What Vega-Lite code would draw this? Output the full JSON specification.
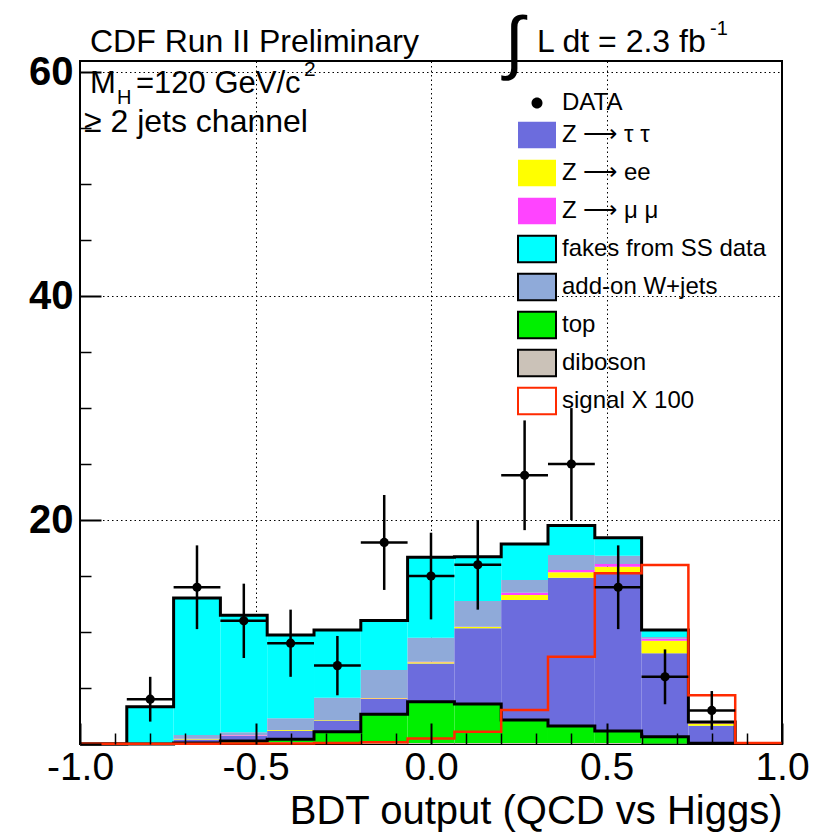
{
  "$schema": "https://vega.github.io/schema/vega-lite/v6.json",
  "width": 702,
  "height": 683,
  "autosize": {"type": "none"},
  "padding": {"left": 80, "top": 61, "right": 36, "bottom": 93},
  "background": "white",
  "config": {
    "font": "Liberation Sans",
    "view": {"stroke": "black", "strokeWidth": 2},
    "axis": {
      "domain": false,
      "grid": false,
      "labelColor": "black",
      "tickColor": "black",
      "titleColor": "black",
      "labelFont": "Liberation Sans",
      "titleFont": "Liberation Sans",
      "titleFontWeight": "normal"
    }
  },
  "datasets": {
    "stack": [
      {"lo": -1.0, "hi": -0.8667, "process": "fakes from SS data", "n": 0},
      {"lo": -1.0, "hi": -0.8667, "process": "top", "n": 0},

      {"lo": -0.8667, "hi": -0.7333, "process": "top", "n": 0},
      {"lo": -0.8667, "hi": -0.7333, "process": "fakes from SS data", "n": 3.33},

      {"lo": -0.7333, "hi": -0.6, "process": "diboson", "n": 0.05},
      {"lo": -0.7333, "hi": -0.6, "process": "top", "n": 0.05},
      {"lo": -0.7333, "hi": -0.6, "process": "Z → τ τ", "n": 0.3},
      {"lo": -0.7333, "hi": -0.6, "process": "Z → ee", "n": 0.05},
      {"lo": -0.7333, "hi": -0.6, "process": "Z → μ μ", "n": 0.02},
      {"lo": -0.7333, "hi": -0.6, "process": "add-on W+jets", "n": 0.33},
      {"lo": -0.7333, "hi": -0.6, "process": "fakes from SS data", "n": 12.24},

      {"lo": -0.6, "hi": -0.4667, "process": "diboson", "n": 0.1},
      {"lo": -0.6, "hi": -0.4667, "process": "top", "n": 0.17},
      {"lo": -0.6, "hi": -0.4667, "process": "Z → τ τ", "n": 0.47},
      {"lo": -0.6, "hi": -0.4667, "process": "Z → ee", "n": 0.01},
      {"lo": -0.6, "hi": -0.4667, "process": "Z → μ μ", "n": 0.05},
      {"lo": -0.6, "hi": -0.4667, "process": "add-on W+jets", "n": 0.25},
      {"lo": -0.6, "hi": -0.4667, "process": "fakes from SS data", "n": 10.45},

      {"lo": -0.4667, "hi": -0.3333, "process": "diboson", "n": 0.15},
      {"lo": -0.4667, "hi": -0.3333, "process": "top", "n": 0.27},
      {"lo": -0.4667, "hi": -0.3333, "process": "Z → τ τ", "n": 0.77},
      {"lo": -0.4667, "hi": -0.3333, "process": "Z → ee", "n": 0.06},
      {"lo": -0.4667, "hi": -0.3333, "process": "Z → μ μ", "n": 0.01},
      {"lo": -0.4667, "hi": -0.3333, "process": "add-on W+jets", "n": 1.03},
      {"lo": -0.4667, "hi": -0.3333, "process": "fakes from SS data", "n": 7.44},

      {"lo": -0.3333, "hi": -0.2, "process": "diboson", "n": 0.1},
      {"lo": -0.3333, "hi": -0.2, "process": "top", "n": 1.0},
      {"lo": -0.3333, "hi": -0.2, "process": "Z → τ τ", "n": 1.0},
      {"lo": -0.3333, "hi": -0.2, "process": "Z → ee", "n": 0.04},
      {"lo": -0.3333, "hi": -0.2, "process": "Z → μ μ", "n": 0.01},
      {"lo": -0.3333, "hi": -0.2, "process": "add-on W+jets", "n": 1.99},
      {"lo": -0.3333, "hi": -0.2, "process": "fakes from SS data", "n": 6.04},

      {"lo": -0.2, "hi": -0.0667, "process": "diboson", "n": 0.1},
      {"lo": -0.2, "hi": -0.0667, "process": "top", "n": 2.55},
      {"lo": -0.2, "hi": -0.0667, "process": "Z → τ τ", "n": 1.38},
      {"lo": -0.2, "hi": -0.0667, "process": "Z → ee", "n": 0.05},
      {"lo": -0.2, "hi": -0.0667, "process": "Z → μ μ", "n": 0.02},
      {"lo": -0.2, "hi": -0.0667, "process": "add-on W+jets", "n": 2.51},
      {"lo": -0.2, "hi": -0.0667, "process": "fakes from SS data", "n": 4.43},

      {"lo": -0.0667, "hi": 0.0667, "process": "diboson", "n": 0.1},
      {"lo": -0.0667, "hi": 0.0667, "process": "top", "n": 3.68},
      {"lo": -0.0667, "hi": 0.0667, "process": "Z → τ τ", "n": 3.42},
      {"lo": -0.0667, "hi": 0.0667, "process": "Z → ee", "n": 0.1},
      {"lo": -0.0667, "hi": 0.0667, "process": "Z → μ μ", "n": 0.05},
      {"lo": -0.0667, "hi": 0.0667, "process": "add-on W+jets", "n": 2.14},
      {"lo": -0.0667, "hi": 0.0667, "process": "fakes from SS data", "n": 7.18},

      {"lo": 0.0667, "hi": 0.2, "process": "diboson", "n": 0.1},
      {"lo": 0.0667, "hi": 0.2, "process": "top", "n": 3.47},
      {"lo": 0.0667, "hi": 0.2, "process": "Z → τ τ", "n": 6.76},
      {"lo": 0.0667, "hi": 0.2, "process": "Z → ee", "n": 0.12},
      {"lo": 0.0667, "hi": 0.2, "process": "Z → μ μ", "n": 0.03},
      {"lo": 0.0667, "hi": 0.2, "process": "add-on W+jets", "n": 2.29},
      {"lo": 0.0667, "hi": 0.2, "process": "fakes from SS data", "n": 3.96},

      {"lo": 0.2, "hi": 0.3333, "process": "diboson", "n": 0.1},
      {"lo": 0.2, "hi": 0.3333, "process": "top", "n": 2.04},
      {"lo": 0.2, "hi": 0.3333, "process": "Z → τ τ", "n": 10.72},
      {"lo": 0.2, "hi": 0.3333, "process": "Z → ee", "n": 0.44},
      {"lo": 0.2, "hi": 0.3333, "process": "Z → μ μ", "n": 0.21},
      {"lo": 0.2, "hi": 0.3333, "process": "add-on W+jets", "n": 1.13},
      {"lo": 0.2, "hi": 0.3333, "process": "fakes from SS data", "n": 3.22},

      {"lo": 0.3333, "hi": 0.4667, "process": "diboson", "n": 0.1},
      {"lo": 0.3333, "hi": 0.4667, "process": "top", "n": 1.51},
      {"lo": 0.3333, "hi": 0.4667, "process": "Z → τ τ", "n": 13.24},
      {"lo": 0.3333, "hi": 0.4667, "process": "Z → ee", "n": 0.48},
      {"lo": 0.3333, "hi": 0.4667, "process": "Z → μ μ", "n": 0.21},
      {"lo": 0.3333, "hi": 0.4667, "process": "add-on W+jets", "n": 1.34},
      {"lo": 0.3333, "hi": 0.4667, "process": "fakes from SS data", "n": 2.64},

      {"lo": 0.4667, "hi": 0.6, "process": "diboson", "n": 0.08},
      {"lo": 0.4667, "hi": 0.6, "process": "top", "n": 1.08},
      {"lo": 0.4667, "hi": 0.6, "process": "Z → τ τ", "n": 14.17},
      {"lo": 0.4667, "hi": 0.6, "process": "Z → ee", "n": 0.5},
      {"lo": 0.4667, "hi": 0.6, "process": "Z → μ μ", "n": 0.24},
      {"lo": 0.4667, "hi": 0.6, "process": "add-on W+jets", "n": 0.75},
      {"lo": 0.4667, "hi": 0.6, "process": "fakes from SS data", "n": 1.6},

      {"lo": 0.6, "hi": 0.7333, "process": "diboson", "n": 0.05},
      {"lo": 0.6, "hi": 0.7333, "process": "top", "n": 0.6},
      {"lo": 0.6, "hi": 0.7333, "process": "Z → τ τ", "n": 7.45},
      {"lo": 0.6, "hi": 0.7333, "process": "Z → ee", "n": 1.13},
      {"lo": 0.6, "hi": 0.7333, "process": "Z → μ μ", "n": 0.17},
      {"lo": 0.6, "hi": 0.7333, "process": "add-on W+jets", "n": 0.15},
      {"lo": 0.6, "hi": 0.7333, "process": "fakes from SS data", "n": 0.63},

      {"lo": 0.7333, "hi": 0.8667, "process": "diboson", "n": 0.02},
      {"lo": 0.7333, "hi": 0.8667, "process": "top", "n": 0.05},
      {"lo": 0.7333, "hi": 0.8667, "process": "Z → τ τ", "n": 1.57},
      {"lo": 0.7333, "hi": 0.8667, "process": "Z → ee", "n": 0.19},
      {"lo": 0.7333, "hi": 0.8667, "process": "Z → μ μ", "n": 0.04},
      {"lo": 0.7333, "hi": 0.8667, "process": "add-on W+jets", "n": 0.05},
      {"lo": 0.7333, "hi": 0.8667, "process": "fakes from SS data", "n": 0.05},

      {"lo": 0.8667, "hi": 1.0, "process": "top", "n": 0},
      {"lo": 0.8667, "hi": 1.0, "process": "fakes from SS data", "n": 0}
    ],
    "points": [
      {"lo": -0.8667, "hi": -0.7333, "mid": -0.8, "n": 4, "down": 2.0, "up": 6.0},
      {"lo": -0.7333, "hi": -0.6, "mid": -0.6667, "n": 14, "down": 10.26, "up": 17.74},
      {"lo": -0.6, "hi": -0.4667, "mid": -0.5333, "n": 11, "down": 7.68, "up": 14.32},
      {"lo": -0.4667, "hi": -0.3333, "mid": -0.4, "n": 9, "down": 6.0, "up": 12.0},
      {"lo": -0.3333, "hi": -0.2, "mid": -0.2667, "n": 7, "down": 4.35, "up": 9.65},
      {"lo": -0.2, "hi": -0.0667, "mid": -0.1333, "n": 18, "down": 13.76, "up": 22.24},
      {"lo": -0.0667, "hi": 0.0667, "mid": 0.0, "n": 15, "down": 11.13, "up": 18.87},
      {"lo": 0.0667, "hi": 0.2, "mid": 0.1333, "n": 16, "down": 12.0, "up": 20.0},
      {"lo": 0.2, "hi": 0.3333, "mid": 0.2667, "n": 24, "down": 19.1, "up": 28.9},
      {"lo": 0.3333, "hi": 0.4667, "mid": 0.4, "n": 25, "down": 20.0, "up": 30.0},
      {"lo": 0.4667, "hi": 0.6, "mid": 0.5333, "n": 14, "down": 10.26, "up": 17.74},
      {"lo": 0.6, "hi": 0.7333, "mid": 0.6667, "n": 6, "down": 3.55, "up": 8.45},
      {"lo": 0.7333, "hi": 0.8667, "mid": 0.8, "n": 3, "down": 1.27, "up": 4.73}
    ],
    "signal": [
      {"edge": -1.0, "n": 0.02},
      {"edge": -0.8667, "n": 0.02},
      {"edge": -0.7333, "n": 0.03},
      {"edge": -0.6, "n": 0.04},
      {"edge": -0.4667, "n": 0.05},
      {"edge": -0.3333, "n": 0.1},
      {"edge": -0.2, "n": 0.15},
      {"edge": -0.0667, "n": 0.5},
      {"edge": 0.0667, "n": 1.1},
      {"edge": 0.2, "n": 3.04},
      {"edge": 0.3333, "n": 7.8},
      {"edge": 0.4667, "n": 15.24},
      {"edge": 0.6, "n": 15.98},
      {"edge": 0.7333, "n": 4.35},
      {"edge": 0.8667, "n": 0.1},
      {"edge": 1.0, "n": 0.1}
    ]
  },
  "layer": [
    {
      "data": {"name": "stack"},
      "transform": [
        {"calculate": "indexof(['diboson', 'top', 'Z → τ τ', 'Z → ee', 'Z → μ μ', 'add-on W+jets', 'fakes from SS data'], datum.process)", "as": "stack_rank"},
        {"stack": "n", "groupby": ["lo"], "sort": [{"field": "stack_rank", "order": "ascending"}], "as": ["y0", "y1"]}
      ],
      "mark": {"type": "bar", "strokeWidth": 0},
      "encoding": {
        "x": {
          "field": "lo", "type": "quantitative",
          "scale": {"domain": [-1, 1], "nice": false, "zero": false},
          "axis": {"orient": "bottom", "values": [-0.5, 0, 0.5], "grid": true, "gridColor": "black", "gridDash": [1.5, 3], "gridWidth": 1, "ticks": false, "labels": false, "title": null, "zindex": 0}
        },
        "x2": {"field": "hi"},
        "y": {
          "field": "y0", "type": "quantitative",
          "scale": {"domain": [0, 61], "nice": false},
          "axis": {"orient": "left", "values": [20, 40, 60], "grid": true, "gridColor": "black", "gridDash": [1.5, 3], "gridWidth": 1, "ticks": false, "labels": false, "title": null, "zindex": 0}
        },
        "y2": {"field": "y1"},
        "color": {
          "field": "process", "type": "nominal",
          "scale": {
            "domain": ["DATA", "Z → τ τ", "Z → ee", "Z → μ μ", "fakes from SS data", "add-on W+jets", "top", "diboson", "signal X 100"],
            "range": ["#000000", "#6c6cdd", "#ffff00", "#ff44ff", "#00ffff", "#8faad9", "#00f000", "#cbc2b8", "#ffffff"]
          },
          "legend": {
            "title": null,
            "orient": "none",
            "legendX": 437,
            "legendY": 22,
            "padding": 0,
            "symbolType": {"expr": "datum.value === 'DATA' ? 'M-0.29,0A0.29,0.29,0,1,0,0.29,0A0.29,0.29,0,1,0,-0.29,0Z' : 'M-1,-0.7H1V0.7H-1Z'"},
            "symbolSize": 1444,
            "symbolStrokeWidth": 2,
            "symbolStrokeColor": {"expr": "indexof(['fakes from SS data', 'add-on W+jets', 'top', 'diboson'], datum.value) >= 0 ? '#000000' : (datum.value === 'signal X 100' ? '#ff2a00' : 'transparent')"},
            "symbolOpacity": 1,
            "labelFont": "Liberation Sans",
            "labelFontSize": 24,
            "labelColor": "black",
            "labelOffset": 5,
            "labelLimit": 400,
            "labelExpr": "replace(datum.label, '→', '⟶')",
            "rowPadding": -1.5
          }
        }
      }
    },
    {
      "data": {"name": "stack"},
      "transform": [
        {"aggregate": [{"op": "sum", "field": "n", "as": "total"}], "groupby": ["lo"]}
      ],
      "mark": {"type": "line", "interpolate": "step-after", "color": "black", "strokeWidth": 3},
      "encoding": {
        "x": {
          "field": "lo", "type": "quantitative",
          "scale": {"domain": [-1, 1], "nice": false, "zero": false},
          "axis": {
            "orient": "bottom",
            "values": [-1, -0.5, 0, 0.5, 1],
            "tickSize": -21, "tickWidth": 2,
            "labelFontSize": 39, "labelPadding": 25, "labelFlush": false, "labelOverlap": false, "labelBound": false,
            "labelExpr": "datum.value < 0 ? '-' + format(-datum.value, '.1f') : format(datum.value, '.1f')",
            "title": "BDT output (QCD vs Higgs)", "titleFontSize": 40, "titleAnchor": "end", "titlePadding": 4,
            "zindex": 1
          }
        },
        "y": {
          "field": "total", "type": "quantitative",
          "scale": {"domain": [0, 61], "nice": false},
          "axis": {
            "orient": "left",
            "values": [0, 20, 40, 60],
            "tickSize": -21, "tickWidth": 2,
            "labelFontSize": 40, "labelFontWeight": "bold", "labelPadding": 28, "labelOverlap": false, "labelBound": false,
            "labelExpr": "datum.value == 0 ? '' : format(datum.value, 'd')",
            "title": null,
            "zindex": 1
          }
        }
      }
    },
    {
      "data": {"name": "stack"},
      "transform": [
        {"filter": "datum.process === 'top' || datum.process === 'diboson'"},
        {"aggregate": [{"op": "sum", "field": "n", "as": "low"}], "groupby": ["lo"]}
      ],
      "mark": {"type": "line", "interpolate": "step-after", "color": "black", "strokeWidth": 3},
      "encoding": {
        "x": {
          "field": "lo", "type": "quantitative",
          "scale": {"domain": [-1, 1], "nice": false, "zero": false},
          "axis": {
            "orient": "bottom",
            "values": [-0.9, -0.8, -0.7, -0.6, -0.4, -0.3, -0.2, -0.1, 0.1, 0.2, 0.3, 0.4, 0.6, 0.7, 0.8, 0.9],
            "tickSize": -11, "tickWidth": 1.5, "labels": false, "title": null, "zindex": 1
          }
        },
        "y": {
          "field": "low", "type": "quantitative",
          "scale": {"domain": [0, 61], "nice": false},
          "axis": {
            "orient": "left",
            "values": [5, 10, 15, 25, 30, 35, 45, 50, 55],
            "tickSize": -11, "tickWidth": 1.5, "labels": false, "title": null, "zindex": 1
          }
        }
      }
    },
    {
      "data": {"name": "signal"},
      "mark": {"type": "line", "interpolate": "step-after", "strokeWidth": 2.5, "color": "#ff2a00"},
      "encoding": {
        "x": {"field": "edge", "type": "quantitative", "scale": {"domain": [-1, 1], "nice": false, "zero": false}, "axis": null},
        "y": {"field": "n", "type": "quantitative", "scale": {"domain": [0, 61], "nice": false}, "axis": null}
      }
    },
    {
      "data": {"name": "points"},
      "mark": {"type": "rule", "color": "black", "strokeWidth": 2.5},
      "encoding": {
        "x": {"field": "mid", "type": "quantitative", "scale": {"domain": [-1, 1], "nice": false, "zero": false}, "axis": null},
        "y": {"field": "down", "type": "quantitative", "scale": {"domain": [0, 61], "nice": false}, "axis": null},
        "y2": {"field": "up"}
      }
    },
    {
      "data": {"name": "points"},
      "mark": {"type": "rule", "color": "black", "strokeWidth": 2.5},
      "encoding": {
        "x": {"field": "lo", "type": "quantitative", "scale": {"domain": [-1, 1], "nice": false, "zero": false}, "axis": null},
        "x2": {"field": "hi"},
        "y": {"field": "n", "type": "quantitative", "scale": {"domain": [0, 61], "nice": false}, "axis": null}
      }
    },
    {
      "data": {"name": "points"},
      "mark": {"type": "point", "shape": "circle", "filled": true, "size": 85, "opacity": 1, "color": "black"},
      "encoding": {
        "x": {"field": "mid", "type": "quantitative", "scale": {"domain": [-1, 1], "nice": false, "zero": false}, "axis": null},
        "y": {"field": "n", "type": "quantitative", "scale": {"domain": [0, 61], "nice": false}, "axis": null}
      }
    },
    {
      "data": {"values": [{}]},
      "mark": {"type": "text", "text": "CDF Run II Preliminary", "fontSize": 32, "align": "left", "baseline": "alphabetic", "color": "black"},
      "encoding": {
        "x": {"datum": -0.9715, "type": "quantitative", "scale": {"domain": [-1, 1], "nice": false, "zero": false}, "axis": null},
        "y": {"datum": 61.8, "type": "quantitative", "scale": {"domain": [0, 61], "nice": false}, "axis": null}
      }
    },
    {
      "data": {"values": [{}]},
      "mark": {"type": "text", "text": "∫", "fontSize": 70, "align": "center", "baseline": "middle", "color": "black"},
      "encoding": {
        "x": {"datum": 0.2365, "type": "quantitative", "scale": {"domain": [-1, 1], "nice": false, "zero": false}, "axis": null},
        "y": {"datum": 62.4, "type": "quantitative", "scale": {"domain": [0, 61], "nice": false}, "axis": null}
      }
    },
    {
      "data": {"values": [{}]},
      "mark": {"type": "text", "text": "L dt = 2.3 fb", "fontSize": 32, "align": "left", "baseline": "alphabetic", "color": "black"},
      "encoding": {
        "x": {"datum": 0.302, "type": "quantitative", "scale": {"domain": [-1, 1], "nice": false, "zero": false}, "axis": null},
        "y": {"datum": 61.8, "type": "quantitative", "scale": {"domain": [0, 61], "nice": false}, "axis": null}
      }
    },
    {
      "data": {"values": [{}]},
      "mark": {"type": "text", "text": "-1", "fontSize": 20, "align": "left", "baseline": "alphabetic", "color": "black"},
      "encoding": {
        "x": {"datum": 0.795, "type": "quantitative", "scale": {"domain": [-1, 1], "nice": false, "zero": false}, "axis": null},
        "y": {"datum": 63.3, "type": "quantitative", "scale": {"domain": [0, 61], "nice": false}, "axis": null}
      }
    },
    {
      "data": {"values": [{}]},
      "mark": {"type": "text", "text": "M", "fontSize": 31, "align": "left", "baseline": "alphabetic", "color": "black"},
      "encoding": {
        "x": {"datum": -0.9715, "type": "quantitative", "scale": {"domain": [-1, 1], "nice": false, "zero": false}, "axis": null},
        "y": {"datum": 58.14, "type": "quantitative", "scale": {"domain": [0, 61], "nice": false}, "axis": null}
      }
    },
    {
      "data": {"values": [{}]},
      "mark": {"type": "text", "text": "H", "fontSize": 20, "align": "left", "baseline": "alphabetic", "color": "black"},
      "encoding": {
        "x": {"datum": -0.8946, "type": "quantitative", "scale": {"domain": [-1, 1], "nice": false, "zero": false}, "axis": null},
        "y": {"datum": 57.16, "type": "quantitative", "scale": {"domain": [0, 61], "nice": false}, "axis": null}
      }
    },
    {
      "data": {"values": [{}]},
      "mark": {"type": "text", "text": "=120 GeV/c", "fontSize": 31, "align": "left", "baseline": "alphabetic", "color": "black"},
      "encoding": {
        "x": {"datum": -0.8405, "type": "quantitative", "scale": {"domain": [-1, 1], "nice": false, "zero": false}, "axis": null},
        "y": {"datum": 58.14, "type": "quantitative", "scale": {"domain": [0, 61], "nice": false}, "axis": null}
      }
    },
    {
      "data": {"values": [{}]},
      "mark": {"type": "text", "text": "2", "fontSize": 21, "align": "left", "baseline": "alphabetic", "color": "black"},
      "encoding": {
        "x": {"datum": -0.3618, "type": "quantitative", "scale": {"domain": [-1, 1], "nice": false, "zero": false}, "axis": null},
        "y": {"datum": 59.66, "type": "quantitative", "scale": {"domain": [0, 61], "nice": false}, "axis": null}
      }
    },
    {
      "data": {"values": [{}]},
      "mark": {"type": "text", "text": "≥ 2 jets channel", "fontSize": 32, "align": "left", "baseline": "alphabetic", "color": "black"},
      "encoding": {
        "x": {"datum": -0.9886, "type": "quantitative", "scale": {"domain": [-1, 1], "nice": false, "zero": false}, "axis": null},
        "y": {"datum": 54.66, "type": "quantitative", "scale": {"domain": [0, 61], "nice": false}, "axis": null}
      }
    }
  ],
  "resolve": {"axis": {"x": "independent", "y": "independent"}}
}
